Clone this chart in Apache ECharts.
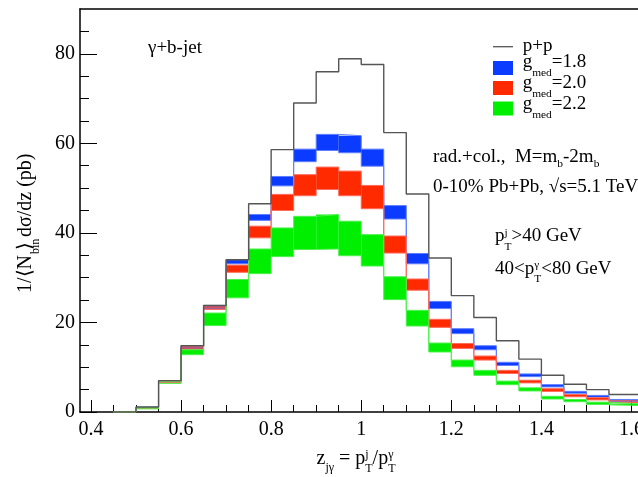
<!DOCTYPE html>
<html><head><meta charset="utf-8">
<script src="https://cdn.jsdelivr.net/npm/echarts@6/dist/echarts.min.js"></script>
<style>html,body{margin:0;padding:0;background:#fff}#c{width:638px;height:477px}</style>
</head><body><div id="c"></div>
<script>
// ---- data ----
const binEdges = [0.45,0.50,0.55,0.60,0.65,0.70,0.75,0.80,0.85,0.90,0.95,1.00,1.05,1.10,1.15,1.20,1.25,1.30,1.35,1.40,1.45,1.50,1.55,1.60,1.65];
const ppValues = [0,1.1,7.0,14.8,23.8,34.0,46.5,58.6,69.0,76.0,78.9,77.6,62.4,48.7,34.4,26.0,21.1,15.9,11.8,8.2,6.2,5.0,3.9,3.9];
const g18Low  = [0,0.9,6.7,14.3,23.2,33.1,42.8,50.5,55.9,58.4,57.9,54.9,43.1,33.1,23.1,17.5,13.9,10.4,7.9,5.6,4.2,3.3,2.4,2.3];
const g18High = [0,1.1,7.0,14.8,23.8,34.0,44.1,52.6,58.7,62.0,61.7,58.7,46.1,35.4,24.7,18.6,14.8,11.1,8.5,6.1,4.6,3.7,2.8,2.7];
const g20Low  = [0,0.8,6.6,14.0,22.9,31.2,38.9,45.0,48.3,49.7,48.3,45.4,35.5,27.2,18.9,14.2,11.6,8.6,6.5,4.6,3.4,2.7,2.1,2.0];
const g20High = [0,1.0,6.9,14.6,23.5,32.8,41.5,48.6,53.0,54.7,53.8,50.6,39.3,29.7,20.7,15.3,12.5,9.3,7.1,5.2,3.9,3.2,2.5,2.4];
const g22Low  = [0,0.7,6.4,12.8,19.3,25.5,30.9,34.7,36.3,36.4,34.9,32.6,25.1,19.2,13.4,10.1,8.2,6.1,4.7,2.9,2.3,1.7,1.5,1.4];
const g22High = [0,1.0,6.9,13.9,22.1,29.6,36.4,41.1,43.7,44.1,42.6,39.6,30.2,22.7,15.4,11.6,9.3,6.9,5.4,3.5,2.8,2.2,1.9,1.8];
const xMajorTicks = [0.4,0.6,0.8,1.0,1.2,1.4,1.6];
const xTickLabels = ['0.4','0.6','0.8','1','1.2','1.4','1.6'];
const xMinorTicks = [0.45,0.5,0.55,0.65,0.7,0.75,0.85,0.9,0.95,1.05,1.1,1.15,1.25,1.3,1.35,1.45,1.5,1.55];
const yMajorTicks = [0,20,40,60,80];
const yTickLabels = ['0','20','40','60','80'];
const yMinorTicks = [5,10,15,25,30,35,45,50,55,65,70,75,85];

// ---- helpers ----
const FONT = '"Liberation Serif","Times New Roman",serif';
const mctx = document.createElement('canvas').getContext('2d');
function tw(t, fs){ mctx.font = fs + 'px ' + FONT; return mctx.measureText(t).width; }
function txt(x, y, t, fs){
  return {type:'text', x:x, y:y, silent:true, style:{text:t, font: fs + 'px ' + FONT, fill:'#000',
    textAlign:'left', textVerticalAlign:'middle', verticalAlign:'middle'}};
}
// parts: strings, or {sub, sup, subDy, supDy}
function richLine(x, base, parts, fs){
  const out = []; let cx = x; const sfs = fs * 0.6;
  for (const p of parts){
    if (typeof p === 'string'){ out.push(txt(cx, base - 0.34*fs, p, fs)); cx += tw(p, fs); }
    else {
      let adv = 0;
      if (p.sub){ out.push(txt(cx, base + (p.subDy !== undefined ? p.subDy : 0.3*fs) - 0.34*sfs, p.sub, sfs)); adv = Math.max(adv, tw(p.sub, sfs)); }
      if (p.sup){ out.push(txt(cx, base - (p.supDy !== undefined ? p.supDy : 0.35*fs) - 0.34*sfs, p.sup, sfs)); adv = Math.max(adv, tw(p.sup, sfs)); }
      cx += adv;
    }
  }
  return out;
}
function stepData(vals){
  const d = vals.map((v,i)=>[binEdges[i], v]);
  d.push([binEdges[vals.length], vals[vals.length-1]]);
  return d;
}
function bandData(lo, hi){ return lo.map((v,i)=>[binEdges[i], binEdges[i+1], v, hi[i]]); }
function bandSeries(lo, hi, color){
  return {type:'custom', silent:true, z:2, data: bandData(lo, hi), encode:{x:[0,1], y:[2,3]},
    renderItem: function(params, api){
      const p0 = api.coord([api.value(0), api.value(3)]);
      const p1 = api.coord([api.value(1), api.value(2)]);
      const cs = params.coordSys;
      const r = echarts.graphic.clipRectByRect({x:p0[0], y:p0[1], width:p1[0]-p0[0], height:p1[1]-p0[1]},
        {x:cs.x, y:cs.y, width:cs.width, height:cs.height});
      if (!r) return null;
      return {type:'rect', shape:r, style:{fill:color}};
    }};
}
function stepSeries(vals, color, width, z){
  return {type:'line', step:'end', silent:true, symbol:'none', z:z, data: stepData(vals),
    lineStyle:{color:color, width:width}, animation:false};
}

const BLUE='#0b3bff', BLUEL='#5f7dff', RED='#ff2a00', REDL='#ff6a5a', GREEN='#00ee00', GREENL='#4cf04c';
const XMIN = 0.3756, XMAX = 1.6145;

// ---- graphics (texts, legend) ----
const g = [];
const FS = 19;
g.push(...richLine(148, 54.3, ['γ+b-jet'], FS));
g.push(...richLine(433, 163.3, ['rad.+col.,  M=m', {sub:'b', subDy:5}, '-2m', {sub:'b', subDy:5}], FS));
g.push(...richLine(433, 193.3, ['0-10% Pb+Pb, √s=5.1 TeV'], FS));
g.push(...richLine(495, 242.7, ['p', {sub:'T', sup:'j', subDy:8, supDy:6}, '>40 GeV'], FS));
g.push(...richLine(495, 275, ['40<p', {sub:'T', sup:'γ', subDy:8, supDy:6}, '<80 GeV'], FS));
// legend
g.push({type:'line', silent:true, shape:{x1:493, y1:46.7, x2:513, y2:46.7}, style:{stroke:'#555', lineWidth:1.3}});
g.push({type:'rect', silent:true, shape:{x:493, y:61, width:20, height:14}, style:{fill:BLUE}});
g.push({type:'rect', silent:true, shape:{x:493, y:81, width:20, height:14}, style:{fill:RED}});
g.push({type:'rect', silent:true, shape:{x:493, y:101.5, width:20, height:14}, style:{fill:GREEN}});
g.push(...richLine(522.7, 52.7, ['p+p'], FS));
g.push(...richLine(522.7, 68.3, ['g', {sub:'med', subDy:8.7}, '=1.8'], FS));
g.push(...richLine(522.7, 89.3, ['g', {sub:'med', subDy:8.7}, '=2.0'], FS));
g.push(...richLine(522.7, 110, ['g', {sub:'med', subDy:8.7}, '=2.2'], FS));
// x axis title
g.push(...richLine(316.5, 466, ['z', {sub:'jγ', subDy:6}, ' = p', {sub:'T', sup:'j', subDy:7, supDy:7}, '/p', {sub:'T', sup:'γ', subDy:7, supDy:7}], 20));
// y axis title (rotated)
(function(){
  const fs = 20;
  const kids = [];
  const a = '1/⟨N';
  kids.push(...richLine(0, 0, [a], fs));
  const aw = tw(a, fs);
  kids.push(...richLine(aw + 1, 0, [{sub:'bin', subDy:7}], fs));
  kids.push(...richLine(aw + 5, 0, ['⟩ dσ/dz (pb)'], fs));
  g.push({type:'group', x:33, y:293, rotation:Math.PI/2, children:kids});
})();

const option = {
  animation:false,
  backgroundColor:'#fff',
  grid:{left:80, right:0, top:9, bottom:65, show:false, containLabel:false, outerBoundsMode:'none'},
  xAxis:[
    {type:'value', position:'bottom', min:XMIN, max:XMAX,
     axisLine:{show:true, onZero:false, lineStyle:{color:'#000', width:1.5}},
     axisTick:{show:true, inside:true, length:12, customValues:xMajorTicks, lineStyle:{color:'#000', width:1}},
     axisLabel:{show:true, customValues:xMajorTicks, margin:8, color:'#000', fontSize:20, fontFamily:FONT,
       hideOverlap:false, formatter:(v)=>xTickLabels[xMajorTicks.indexOf(v)]},
     splitLine:{show:false}},
    {type:'value', position:'bottom', min:XMIN, max:XMAX,
     axisLine:{show:false, onZero:false},
     axisTick:{show:true, inside:true, length:7, customValues:xMinorTicks, lineStyle:{color:'#000', width:1}},
     axisLabel:{show:false}, splitLine:{show:false}},
    {type:'value', position:'top', min:XMIN, max:XMAX,
     axisLine:{show:true, onZero:false, lineStyle:{color:'#000', width:1.5}},
     axisTick:{show:false}, axisLabel:{show:false}, splitLine:{show:false}}
  ],
  yAxis:[
    {type:'value', position:'left', min:0, max:90,
     axisLine:{show:true, onZero:false, lineStyle:{color:'#000', width:1.5}},
     axisTick:{show:true, inside:true, length:17, customValues:yMajorTicks, lineStyle:{color:'#000', width:1}},
     axisLabel:{show:true, customValues:yMajorTicks, margin:5, color:'#000', fontSize:20, fontFamily:FONT,
       formatter:(v)=>yTickLabels[yMajorTicks.indexOf(v)]},
     splitLine:{show:false}},
    {type:'value', position:'left', min:0, max:90,
     axisLine:{show:false, onZero:false},
     axisTick:{show:true, inside:true, length:9, customValues:yMinorTicks, lineStyle:{color:'#000', width:1}},
     axisLabel:{show:false}, splitLine:{show:false}}
  ],
  series:[
    bandSeries(g18Low, g18High, BLUE),
    bandSeries(g20Low, g20High, RED),
    bandSeries(g22Low, g22High, GREEN),
    stepSeries(g18Low, BLUEL, 1, 3), stepSeries(g18High, BLUEL, 1, 3),
    stepSeries(g20Low, REDL, 1, 3), stepSeries(g20High, REDL, 1, 3),
    stepSeries(g22Low, GREENL, 1, 3), stepSeries(g22High, GREENL, 1, 3),
    stepSeries(ppValues, '#555555', 1.4, 4)
  ],
  graphic: g
};
const chart = echarts.init(document.getElementById('c'), null, {renderer:'canvas'});
chart.setOption(option);
</script>
</body></html>
